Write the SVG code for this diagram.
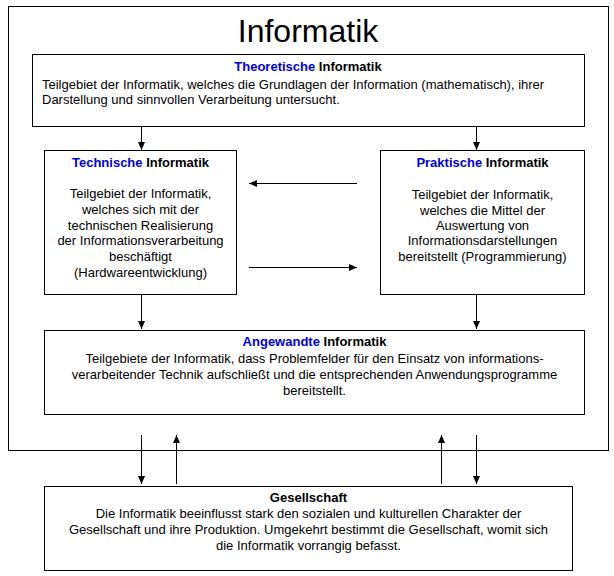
<svg xmlns="http://www.w3.org/2000/svg" width="614" height="576" viewBox="0 0 614 576">
<style>
.box{fill:#fff;stroke:#000;stroke-width:1}
.t{font-family:"Liberation Sans",Arial,sans-serif;font-size:13px;fill:#000}
.c{text-anchor:middle}
.h{font-weight:bold}
.b{fill:#0000cc}
.ln{stroke:#000;stroke-width:1;fill:none;marker-end:url(#ah)}
</style>
<defs>
<marker id="ah" markerUnits="userSpaceOnUse" markerWidth="8" markerHeight="7" refX="8" refY="3.5" orient="auto">
<path d="M0,0 L8,3.5 L0,7 z" fill="#000"/>
</marker>
</defs>
<rect width="614" height="576" fill="#fff"/>
<g id="informatik">
<rect class="box" x="8.5" y="6.5" width="600" height="444"/>
<text x="308" y="42" text-anchor="middle" style="font-family:'Liberation Sans',Arial,sans-serif;font-size:32px">Informatik</text>
</g>
<g id="theoretische">
<rect class="box" x="32.5" y="54.5" width="552" height="72"/>
<text class="t c h" x="308" y="71"><tspan class="b">Theoretische</tspan> Informatik</text>
<text class="t" x="42" y="89">Teilgebiet der Informatik, welches die Grundlagen der Information (mathematisch), ihrer</text>
<text class="t" x="42" y="104">Darstellung und sinnvollen Verarbeitung untersucht.</text>
</g>
<g id="technische">
<rect class="box" x="44.5" y="150.5" width="192" height="144"/>
<text class="t c h" x="140.5" y="167"><tspan class="b">Technische</tspan> Informatik</text>
<text class="t c" x="140.5" y="198">Teilgebiet der Informatik,</text>
<text class="t c" x="140.5" y="214">welches sich mit der</text>
<text class="t c" x="140.5" y="230">technischen Realisierung</text>
<text class="t c" x="140.5" y="245">der Informationsverarbeitung</text>
<text class="t c" x="140.5" y="261">beschäftigt</text>
<text class="t c" x="140.5" y="277">(Hardwareentwicklung)</text>
</g>
<g id="praktische">
<rect class="box" x="380.5" y="150.5" width="204" height="144"/>
<text class="t c h" x="482.5" y="167"><tspan class="b">Praktische</tspan> Informatik</text>
<text class="t c" x="482.5" y="199">Teilgebiet der Informatik,</text>
<text class="t c" x="482.5" y="215">welches die Mittel der</text>
<text class="t c" x="482.5" y="230">Auswertung von</text>
<text class="t c" x="482.5" y="245">Informationsdarstellungen</text>
<text class="t c" x="482.5" y="261">bereitstellt (Programmierung)</text>
</g>
<g id="angewandte">
<rect class="box" x="44.5" y="330.5" width="540" height="84"/>
<text class="t c h" x="314.5" y="346"><tspan class="b">Angewandte</tspan> Informatik</text>
<text class="t c" x="314.5" y="363">Teilgebiete der Informatik, dass Problemfelder für den Einsatz von informations-</text>
<text class="t c" x="314.5" y="379">verarbeitender Technik aufschließt und die entsprechenden Anwendungsprogramme</text>
<text class="t c" x="314.5" y="395">bereitstellt.</text>
</g>
<g id="gesellschaft">
<rect class="box" x="44.5" y="486.5" width="528" height="84"/>
<text class="t c h" x="308.5" y="502">Gesellschaft</text>
<text class="t c" x="308.5" y="518">Die Informatik beeinflusst stark den sozialen und kulturellen Charakter der</text>
<text class="t c" x="308.5" y="534">Gesellschaft und ihre Produktion. Umgekehrt bestimmt die Gesellschaft, womit sich</text>
<text class="t c" x="308.5" y="550">die Informatik vorrangig befasst.</text>
</g>
<g id="connectors">
<line class="ln" x1="141.5" y1="127" x2="141.5" y2="150"/>
<line class="ln" x1="476.5" y1="127" x2="476.5" y2="150"/>
<line class="ln" x1="357" y1="183.5" x2="249" y2="183.5"/>
<line class="ln" x1="249" y1="267.5" x2="357" y2="267.5"/>
<line class="ln" x1="141.5" y1="295" x2="141.5" y2="329"/>
<line class="ln" x1="476.5" y1="295" x2="476.5" y2="329"/>
<line class="ln" x1="141.5" y1="435" x2="141.5" y2="484"/>
<line class="ln" x1="176.5" y1="484" x2="176.5" y2="435"/>
<line class="ln" x1="441.5" y1="484" x2="441.5" y2="435"/>
<line class="ln" x1="476.5" y1="435" x2="476.5" y2="484"/>
</g>
</svg>
